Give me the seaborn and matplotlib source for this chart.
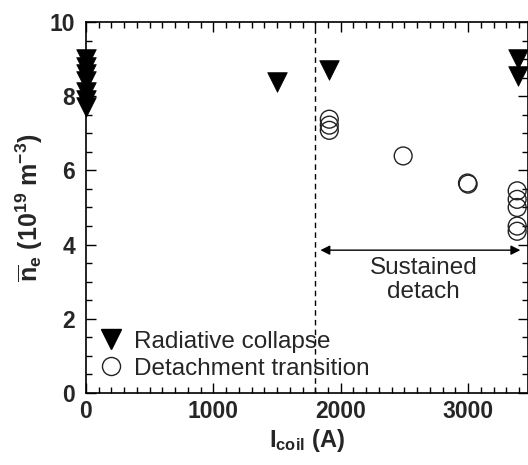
import matplotlib
matplotlib.use("Agg")
import matplotlib.pyplot as plt
import seaborn as sns
import pandas as pd
from matplotlib.ticker import MultipleLocator
from matplotlib.lines import Line2D

# Data
collapse_x = [0, 0, 0, 0, 0, 0, 0, 1500, 1910, 3390, 3390]
collapse_y = [9.0, 8.8, 8.6, 8.4, 8.1, 7.9, 7.7, 8.38, 8.7, 9.0, 8.55]
detach_x = [1910, 1910, 1910, 2490, 2995, 3000, 3385, 3385, 3385, 3385, 3385]
detach_y = [7.38, 7.22, 7.08, 6.39, 5.66, 5.63, 5.45, 5.22, 5.0, 4.5, 4.36]
legend_labels = ["Radiative collapse", "Detachment transition"]
annot_text = "Sustained\ndetach"

sns.set_theme(style="ticks")
plt.rcParams['font.family'] = ['Liberation Sans', 'DejaVu Sans']
plt.rcParams['mathtext.fontset'] = 'custom'
plt.rcParams['mathtext.rm'] = 'Liberation Sans:bold'
plt.rcParams['mathtext.bf'] = 'Liberation Sans:bold'
plt.rcParams['mathtext.it'] = 'Liberation Sans:bold'

df_c = pd.DataFrame({"x": collapse_x, "y": collapse_y})
df_d = pd.DataFrame({"x": detach_x, "y": detach_y})

fig = plt.figure(figsize=(5.28, 4.65), dpi=100)
ax = fig.add_axes([86/528, 72/465, 442/528, 371/465])

sns.scatterplot(data=df_c, x="x", y="y", marker="v", s=200, color="black",
                edgecolor="black", linewidth=0.5, ax=ax, legend=False, zorder=3,
                clip_on=False)
sns.scatterplot(data=df_d, x="x", y="y", marker="o", s=165, facecolor="none",
                edgecolor="#222222", linewidth=1.0, ax=ax, legend=False, zorder=3,
                clip_on=False)

ax.set_xlim(0, 3470)
ax.set_ylim(0, 10)
ax.xaxis.set_major_locator(MultipleLocator(1000))
ax.xaxis.set_minor_locator(MultipleLocator(100))
ax.yaxis.set_major_locator(MultipleLocator(2))
ax.yaxis.set_minor_locator(MultipleLocator(0.5))
ax.tick_params(which='both', direction='in', top=True, right=True, width=1, color='black')
ax.tick_params(which='major', length=7, labelsize=16.5)
ax.tick_params(axis='x', which='major', pad=5)
ax.tick_params(axis='y', which='major', pad=8)
ax.tick_params(which='minor', length=4)
for lab in ax.get_xticklabels() + ax.get_yticklabels():
    lab.set_fontweight('bold')
for s in ax.spines.values():
    s.set_linewidth(1.2)
    s.set_color('black')

ax.set_xlabel(r'I$_{\mathbf{coil}}$ (A)', fontsize=17, fontweight='bold', labelpad=3)
ax.set_ylabel(r'$\overline{\mathbf{n}}_{\mathbf{e}}$ (10$^{\mathbf{19}}$ m$^{\mathbf{-3}}$)',
              fontsize=18, fontweight='bold', labelpad=3)

ax.axvline(1800, color='black', lw=1, ls=(0, (4, 3)), zorder=1)
ax.annotate('', xy=(1840, 3.85), xytext=(3410, 3.85),
            arrowprops=dict(arrowstyle='<|-|>', color='black', lw=1,
                            mutation_scale=14, shrinkA=0, shrinkB=0))
ax.text(2650, 3.05, annot_text, ha='center', va='center', fontsize=17.5, linespacing=1.15)

handles = [
    Line2D([], [], marker='v', color='black', ls='none', markersize=14),
    Line2D([], [], marker='o', markerfacecolor='none', markeredgecolor='#222222', ls='none',
           markersize=13, markeredgewidth=1.0),
]
ax.legend(handles, legend_labels, loc='lower left', frameon=False, fontsize=17.5,
          bbox_to_anchor=(-0.02, -0.01), handletextpad=0.25, borderaxespad=0.3,
          labelspacing=0.2, handlelength=1.4)

fig.savefig("out.png", dpi=100)
